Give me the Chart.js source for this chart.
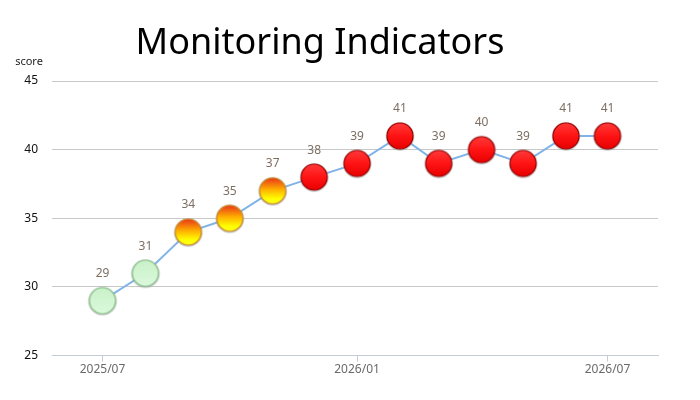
<!DOCTYPE html>
<html>
<head>
<meta charset="utf-8">
<script src="https://cdn.jsdelivr.net/npm/chart.js@4/dist/chart.umd.min.js"></script>
<style>
  html, body { margin: 0; padding: 0; background: #fff; }
  #wrap { width: 700px; height: 400px; position: relative; }
</style>
</head>
<body>
<div id="wrap"><canvas id="c" width="700" height="400"></canvas></div>
<script>
// ---- data ----
const months = ["2025/07","2025/08","2025/09","2025/10","2025/11","2025/12","2026/01","2026/02","2026/03","2026/04","2026/05","2026/06","2026/07"];
const scores = [29, 31, 34, 35, 37, 38, 39, 41, 39, 40, 39, 41, 41];
const levels = ["green","green","yellow","yellow","yellow","red","red","red","red","red","red","red","red"];
const xTickLabels = ["2025/07", "2026/01", "2026/07"];
const titleText = "Monitoring Indicators";
const yAxisTitle = "score";

// ---- helpers ----
const DAY = 86400000;
function toDay(s) { const [y, m] = s.split("/").map(Number); return Date.UTC(y, m - 1, 1) / DAY; }
function fmtDay(d) { const dt = new Date(d * DAY); return dt.getUTCFullYear() + "/" + String(dt.getUTCMonth() + 1).padStart(2, "0"); }

const xs = months.map(toDay);
const span = xs[xs.length - 1] - xs[0];
const xMin = xs[0] - span * 0.1;
const xMax = xs[xs.length - 1] + span * 0.1;
const tickDays = xTickLabels.map(toDay);

function makeSprite(kind) {
  const r = 13, size = 32;
  const cv = document.createElement("canvas");
  cv.width = size; cv.height = size;
  const g = cv.getContext("2d");
  const cx = size / 2, cy = size / 2;
  g.beginPath(); g.arc(cx, cy + 0.5, r + 1.3, 0, Math.PI * 2);
  g.fillStyle = "rgba(150,150,150,0.55)"; g.fill();
  g.beginPath(); g.arc(cx, cy, r, 0, Math.PI * 2);
  let grad = g.createLinearGradient(0, cy - r, 0, cy + r);
  let edge;
  if (kind === "green") {
    grad.addColorStop(0, "#c9f1c9"); grad.addColorStop(1, "#dcf9dc"); edge = "#86c386";
  } else if (kind === "yellow") {
    grad.addColorStop(0, "#e8361a"); grad.addColorStop(0.45, "#ffb000"); grad.addColorStop(0.8, "#ffff00"); grad.addColorStop(1, "#ffff20"); edge = "#d08a20";
  } else {
    grad.addColorStop(0, "#ff3a3a"); grad.addColorStop(0.5, "#ff1414"); grad.addColorStop(1, "#e80000"); edge = "#a00000";
  }
  g.fillStyle = grad; g.fill();
  g.lineWidth = 1.2; g.strokeStyle = edge; g.stroke();
  return cv;
}
const sprites = { green: makeSprite("green"), yellow: makeSprite("yellow"), red: makeSprite("red") };

const valueLabels = {
  id: "valueLabels",
  afterDatasetsDraw(chart) {
    const ctx = chart.ctx;
    const meta = chart.getDatasetMeta(0);
    ctx.save();
    ctx.font = "12px 'Noto Sans', 'Open Sans', sans-serif";
    ctx.fillStyle = "#7d6e62";
    ctx.textAlign = "center";
    ctx.textBaseline = "middle";
    meta.data.forEach((pt, i) => {
      ctx.fillText(String(scores[i]), pt.x, pt.y - 27);
    });
    ctx.restore();
  }
};

const titlePlugin = {
  id: "customTitle",
  afterDraw(chart) {
    const ctx = chart.ctx;
    ctx.save();
    ctx.font = "36px 'Noto Sans', 'Open Sans', sans-serif";
    ctx.fillStyle = "#000";
    ctx.textAlign = "center";
    ctx.textBaseline = "alphabetic";
    ctx.fillText(titleText, 320, 54);
    ctx.font = "11px 'Noto Sans', 'Open Sans', sans-serif";
    ctx.fillStyle = "#222";
    ctx.textAlign = "center";
    ctx.textBaseline = "middle";
    ctx.fillText(yAxisTitle, 29, 62);
    ctx.restore();
  }
};

new Chart(document.getElementById("c"), {
  type: "line",
  data: {
    datasets: [{
      data: xs.map((x, i) => ({ x: x, y: scores[i] })),
      borderColor: "#80b4e8",
      borderWidth: 2,
      tension: 0,
      pointStyle: levels.map(l => sprites[l]),
      pointRadius: 13,
      pointHoverRadius: 13,
      fill: false
    }]
  },
  options: {
    responsive: false,
    animation: false,
    devicePixelRatio: 1,
    layout: { padding: { top: 81, right: 42, bottom: 22, left: 0 } },
    plugins: { legend: { display: false }, tooltip: { enabled: false }, title: { display: false } },
    scales: {
      x: {
        type: "linear",
        min: xMin,
        max: xMax,
        afterBuildTicks(axis) { axis.ticks = tickDays.map(v => ({ value: v })); },
        ticks: {
          callback: (v) => fmtDay(v),
          color: "#6a6a6a",
          font: { size: 12, family: "'Noto Sans', 'Open Sans', sans-serif" },
          padding: 1,
          maxRotation: 0,
          autoSkip: false
        },
        grid: { drawOnChartArea: false, drawTicks: true, tickLength: 6, color: "#c4ccd8", lineWidth: 1 },
        border: { display: true, color: "#c4ccd8", width: 1 }
      },
      y: {
        min: 25,
        max: 45,
        ticks: {
          stepSize: 5,
          color: "#111",
          font: { size: 12, family: "'Noto Sans', 'Open Sans', sans-serif" },
          padding: 14
        },
        afterFit(axis) { axis.width = 52; },
        grid: { color: "#c8c8c8", drawTicks: false, lineWidth: 1 },
        border: { display: false }
      }
    }
  },
  plugins: [valueLabels, titlePlugin]
});
</script>
</body>
</html>
